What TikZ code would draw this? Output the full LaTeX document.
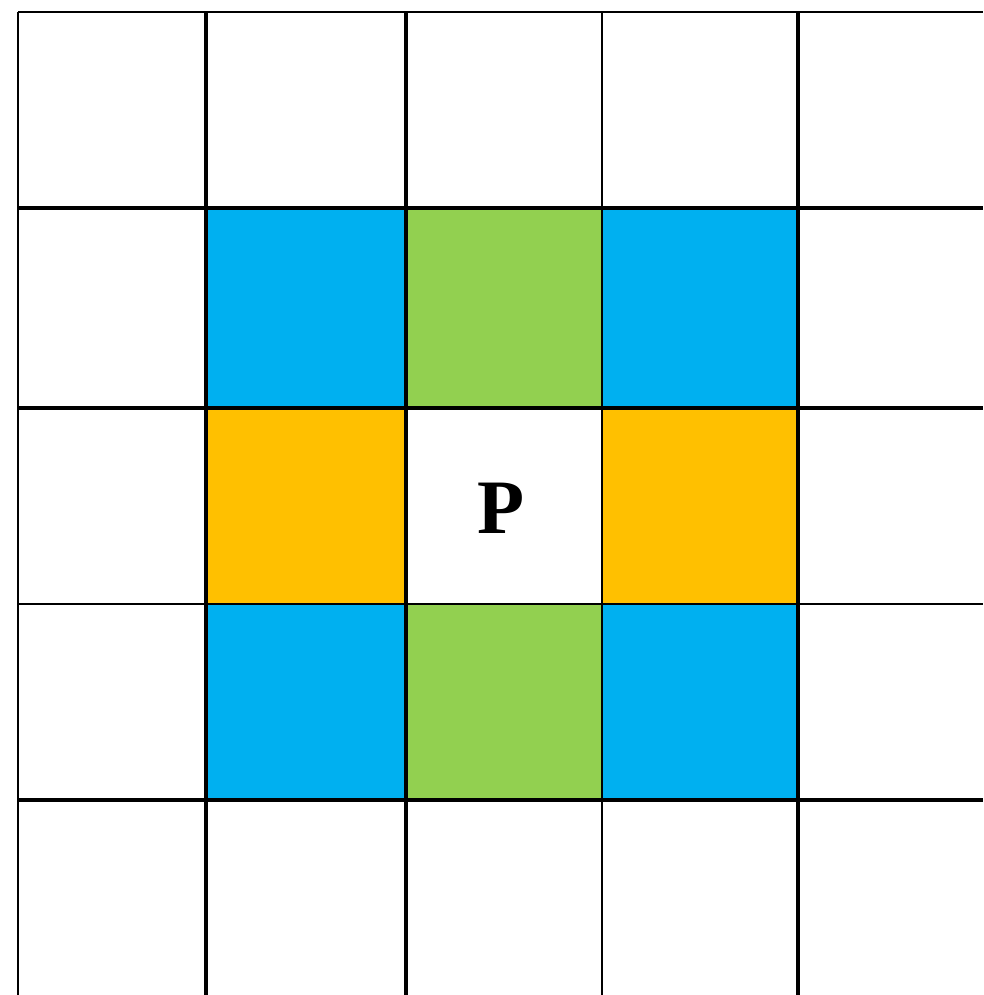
\documentclass[tikz,border=0pt]{standalone}
\usepackage{fontspec}
\setmainfont{Liberation Serif}
\definecolor{cblue}{HTML}{00B0F0}
\definecolor{cgreen}{HTML}{92D050}
\definecolor{corange}{HTML}{FFC000}
\begin{document}
\begin{tikzpicture}[x=1pt,y=-1pt,
  thinline/.style={line width=1.5pt,black},
  midline/.style={line width=2pt,black},
  thickline/.style={line width=3.2pt,black}]
\useasboundingbox (0,0) rectangle (983,995);
% fills
\fill[cblue] (206,208) rectangle (406,408);
\fill[cgreen] (406,208) rectangle (602,408);
\fill[cblue] (602,208) rectangle (798,408);
\fill[corange] (206,408) rectangle (406,604);
\fill[corange] (602,408) rectangle (798,604);
\fill[cblue] (206,604) rectangle (406,800);
\fill[cgreen] (406,604) rectangle (602,800);
\fill[cblue] (602,604) rectangle (798,800);
% vertical lines
\draw[thinline] (18,12) -- (18,995);
\draw[thickline] (206,12) -- (206,995);
\draw[thickline] (406,12) -- (406,995);
\draw[midline] (602,12) -- (602,995);
\draw[thickline] (798,12) -- (798,995);
% horizontal lines
\draw[thinline] (18,12) -- (983,12);
\draw[thickline] (18,208) -- (983,208);
\draw[thickline] (18,408) -- (983,408);
\draw[midline] (18,604) -- (983,604);
\draw[thickline] (18,800) -- (983,800);
% label
\node (p) at (501,508) {\fontsize{77}{77}\selectfont\bfseries P};
\end{tikzpicture}
\end{document}
